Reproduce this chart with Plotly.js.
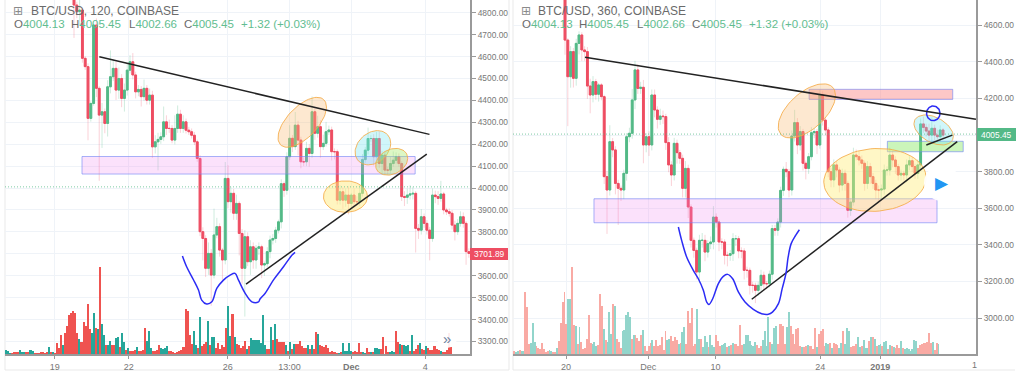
<!DOCTYPE html>
<html><head><meta charset="utf-8">
<script src="https://cdn.plot.ly/plotly-3.0.1.min.js"></script>
<style>html,body{margin:0;padding:0;background:#fff}#c{width:1024px;height:383px}</style></head>
<body><div id="c"></div>
<script>
// ---------- LEFT PANEL: BTC/USD 120 ----------
const leftClose=[4835,4805,4812,4592,4554,4318,4386,4744,4455,4333,
4348,4295,4462,4508,4546,4447,4500,4409,4447,4538,
4576,4516,4439,4450,4417,4455,4401,4424,4188,4211,
4222,4234,4302,4272,4272,4219,4272,4337,4272,4302,
4264,4257,4241,4211,4135,3801,3770,3634,3702,3603,
3786,3824,3717,3672,4044,3938,3976,3885,3930,3793,
3634,3778,3664,3732,3672,3725,3732,3649,3655,3710,
3763,3770,3808,3846,4020,3990,4143,4227,4189,4287,
4219,4120,4120,4181,4158,4348,4250,4280,4189,4204,
4257,4265,4166,4166,3945,3983,3945,3968,3930,3968,
3938,3938,3976,4130,4173,4226,4226,4143,4226,4112,
4150,4082,4082,4112,4127,4143,4112,3961,3958,3968,
3973,3976,3816,3808,3869,3839,3808,3770,3968,3961,
3953,3973,3900,3892,3885,3831,3801,3839,3869,3839,
3710,3702];
const leftWickUp=[20,15,60,10,10,15,10,5,30,10,
40,15,30,120,40,30,50,20,30,30,
30,40,15,20,15,40,15,30,20,30,
30,20,70,30,40,15,60,40,20,30,
15,15,15,15,10,15,20,15,50,20,
120,40,15,10,75,60,30,20,40,10,
20,30,20,30,20,15,20,10,10,20,
20,20,15,10,20,10,20,60,15,60,
20,15,20,30,20,70,15,50,30,40,
45,20,15,15,10,30,20,30,40,10,
30,25,40,25,15,50,15,20,30,30,
20,15,15,30,40,20,15,10,25,30,
40,30,10,20,35,15,15,15,30,20,
25,60,10,10,15,15,20,20,25,20,
10,15];
const leftWickDown=[150,30,60,20,15,100,15,10,40,300,
150,45,60,30,20,45,40,40,60,25,
15,20,30,20,45,20,20,20,50,30,
130,20,20,30,20,15,20,20,20,20,
15,15,15,15,15,20,100,40,30,140,
15,15,30,90,20,30,50,30,30,100,
70,220,20,60,40,40,30,60,50,15,
30,20,20,15,30,30,20,15,25,15,
70,30,20,20,60,20,30,20,50,15,
15,15,40,35,20,20,40,30,50,20,
30,20,20,15,15,20,15,40,15,20,
50,20,20,15,15,15,15,20,40,30,
20,25,110,40,20,20,20,100,15,30,
30,15,20,15,15,20,40,15,15,20,
60,20];
// signed volume: negative = down bar
const leftVolume=[4,3,1,-1,-2,-2,-2,4,2,2,-2,-2,4,3,-1,-1,-1,-2,-2,-1,-2,7,-2,2,-1,
-11,-6,-19,9,-21,-28,-39,-41,-43,-41,-21,15,-12,-32,-28,-50,-25,21,41,-26,25,-87,30,19,-9,
9,13,-9,-9,16,17,-7,21,12,-4,6,-3,-3,-4,7,-3,-3,-4,-26,13,
23,6,-3,-3,-4,-9,6,5,6,8,-3,-3,-2,-1,-2,-3,-4,-7,-45,-43,
-19,-10,23,9,-6,37,-8,-10,-12,33,-9,17,17,-6,-11,-5,-9,-7,-26,48,
18,-40,17,-10,-9,-6,-8,-13,5,-8,16,14,14,14,14,11,39,9,-5,-5,
27,-14,30,-15,-12,-12,-12,9,-3,12,-5,10,-10,-10,-13,-8,-6,-6,9,-5,
9,-5,-22,20,-9,-8,-7,-9,-6,-2,-3,-2,-1,1,-2,11,3,3,11,3,
-2,-3,-2,-11,-2,2,1,-6,-2,2,-2,6,6,5,-5,-17,-8,-2,2,3,
2,-23,-12,10,-9,9,8,9,-3,19,-3,-5,-9,11,-5,-4,8,-6,-4,-4,
-8,-5,-4,3,-2,-2,-4,-21,-7];
const leftTickDays=[0,3,7,9.5,12,15];
const leftTickText=['19','22','26','13:00','<b>Dec</b>','4'];
const leftPriceTicks=[3300,3400,3500,3600,3700,3800,3900,4000,4100,4200,4300,4400,4500,4600,4700,4800];
const leftHiddenTick=3700;
const leftLastPrice=4005.45, leftEndPrice=3701.89;

// ---------- RIGHT PANEL: BTC/USD 360 ----------
const rightClose=[4519,4319,4456,4310,4501,4547,4465,4456,4268,4219,
4292,4223,4274,4210,3773,3700,3964,3919,3736,3709,
3700,3791,3991,4010,4192,4356,4255,4261,3946,3991,
3946,4219,4137,4086,4104,4101,3959,3837,3782,3955,
3904,3873,3709,3818,3607,3425,3370,3252,3425,3425,
3361,3407,3416,3552,3525,3416,3416,3343,3343,3352,
3434,3434,3367,3367,3261,3261,3179,3179,3152,3179,
3234,3188,3188,3240,3489,3480,3525,3698,3813,3800,
3700,3995,4068,3946,4019,3846,3818,3882,4013,4019,
3946,4219,4082,4028,3800,3755,3837,3809,3727,3791,
3736,3589,3634,3891,3882,3864,3846,3736,3828,3773,
3736,3700,3700,3705,3809,3809,3891,3864,3828,3782,
3791,3782,3837,3860,3828,3791,3837,4061,4042,4022,
4000,4037,4000,3991,4028,4000];
const rightWickUp=[10,10,30,20,25,20,15,20,25,40,
30,15,10,10,10,30,90,20,20,20,
15,20,20,30,60,50,30,30,40,20,
30,30,30,20,40,30,15,30,20,30,
20,15,20,40,20,15,15,15,30,40,
30,20,30,60,20,15,20,15,20,20,
30,20,15,20,15,20,15,20,15,20,
30,20,15,20,20,20,20,20,15,40,
15,30,70,25,30,15,15,20,30,20,
15,30,20,15,15,20,30,20,15,25,
20,15,20,40,30,30,25,15,30,20,
20,20,25,25,30,20,40,25,20,15,
20,15,30,25,20,15,30,30,40,20,
40,60,20,30,25,10];
const rightWickDown=[80,270,60,50,40,60,60,50,70,100,
40,30,40,20,40,240,30,40,60,200,
60,50,40,30,30,50,30,30,100,40,
60,30,40,50,30,40,40,40,60,30,
60,30,50,50,60,40,40,40,60,40,
50,30,30,40,30,50,40,50,60,30,
40,40,40,40,50,40,50,40,70,30,
30,40,30,20,30,30,30,30,30,30,
40,30,30,50,30,40,60,30,20,30,
50,20,30,30,30,40,40,40,40,30,
40,40,30,20,20,30,30,40,30,40,
30,50,60,50,30,30,30,40,40,30,
30,30,40,30,30,30,30,30,30,30,
40,40,30,30,30,15];
const rightVolume=[-3,2,3,-4,3,3,-62,-47,-10,11,31,12,-8,-6,-5,-11,-5,-2,-3,4,3,-2,-2,6,-13,-31,-52,-62,-30,55,
55,-87,-29,28,-10,27,-12,-5,-6,-15,-39,-11,10,12,8,-9,-60,-48,25,-14,12,42,20,-50,48,-15,-12,-6,23,24,
39,42,37,-15,19,-19,-16,-13,-19,24,-8,-3,-8,-11,14,-8,-14,-8,-9,-17,-4,-23,14,15,-18,-13,-17,-14,10,-11,
22,27,-10,-43,-31,-46,-8,-10,45,15,-15,7,18,12,-7,19,9,7,-19,-13,-8,9,10,11,-7,8,-9,11,-10,-10,
-8,-29,-9,10,19,19,13,9,8,12,-9,-6,-8,14,23,8,37,-12,10,26,28,-10,-30,-30,-28,-10,27,42,-28,-20,
-10,-25,-26,-8,7,-7,-8,9,-8,-8,-5,-26,7,-20,-23,-25,-8,11,10,-11,6,-11,-10,-9,6,11,-23,10,26,23,
-7,-8,-8,-10,17,7,-8,14,6,6,-13,17,-17,15,-8,9,10,-8,12,13,-5,9,-8,7,-6,-9,-6,13,-6,5,
6,5,3,5,14,13,-6,-9,-10,-11,-11,-12,-21,-11,12,-4,-11,10];
const rightTickDays=[0,11,20,34,42];
const rightTickText=['20','Dec','10','24','<b>2019</b>'];
const rightPriceTicks=[3000,3200,3400,3600,3800,4000,4200,4400,4600];
const rightHiddenTick=4000;
const rightLastPrice=4005.45;

// Drawn annotations (days from panel reference date, price)
const lDownX=[1.806,15.17],lDownY=[4599,4245];
const lUpX=[7.745,15.06],lUpY=[3562,4155];
const lBlueX=[5.17,5.34,5.61,5.82,5.95,6.15,6.36,6.56,6.83,7.10,7.30,7.44,7.71,7.98,8.25,8.31,8.52,8.85,9.26,9.60,9.73];
const lBlueY=[3690,3641,3583,3535,3489,3471,3481,3542,3580,3603,3611,3580,3520,3481,3481,3494,3520,3580,3641,3694,3707];
const rDownX=[2.54,54.8],rDownY=[4425,4086];
const rUpX=[24.83,52.3],rUpY=[3103,3964];
const rShortX=[48.17,51.65],rShortY=[3946,4000];
const rBlueX=[15.02,15.46,16.13,17.02,17.69,18.36,18.81,19.12,19.61,20.37,21.03,21.6,22.28,23.04,23.93,25.04,26.16,27.05,27.6,28.4,28.9,29.4,29.7,30.1,30.7,31.2];
const rBlueY=[3498,3425,3334,3261,3215,3152,3088,3075,3106,3188,3228,3239,3215,3143,3088,3048,3024,3021,3033,3079,3161,3243,3334,3407,3452,3483];

const L={ref:Date.UTC(2018,10,19),xs:'x',ys:'y',pxDay:24.7,px0:54.7};
const R={ref:Date.UTC(2018,10,20),xs:'x2',ys:'y3',pxDay:7.48,px0:566};
const date=(p,d)=>new Date(p.ref+d*864e5).toISOString().slice(0,19);
const dayOfPx=(p,px)=>(px-p.px0)/p.pxDay;

const GREEN='#53b987',RED='#ee4d62';
const traces=[];
function candles(p,close,up,down,firstOpen,startPx){
  const x=close.map((_,i)=>date(p,dayOfPx(p,startPx+2.8*i)));
  const open=close.map((c,i)=>i?close[i-1]:firstOpen);
  const top=close.map((c,i)=>Math.max(c,open[i]));
  const bot=close.map((c,i)=>Math.min(c,open[i]));
  const base={type:'candlestick',x,open,close,xaxis:p.xs,yaxis:p.ys,hoverinfo:'skip',showlegend:false,whiskerwidth:0};
  traces.push(Object.assign({},base,{high:top.map((v,i)=>v+up[i]),low:bot.map((v,i)=>v-down[i]),
    increasing:{line:{color:'rgba(83,185,135,.28)',width:1},fillcolor:'rgba(83,185,135,.28)'},
    decreasing:{line:{color:'rgba(238,77,98,.25)',width:1},fillcolor:'rgba(238,77,98,.25)'}}));
  traces.push(Object.assign({},base,{high:top,low:bot,
    increasing:{line:{color:GREEN,width:1},fillcolor:GREEN},
    decreasing:{line:{color:RED,width:1},fillcolor:RED}}));
}
function volumes(p,vol,startPx,stepPx,yaxis,upC,dnC){
  traces.push({type:'bar',x:vol.map((_,i)=>date(p,dayOfPx(p,startPx+stepPx*i))),y:vol.map(Math.abs),
    marker:{color:vol.map(v=>v<0?dnC:upC),line:{width:0}},xaxis:p.xs,yaxis,hoverinfo:'skip',showlegend:false});
}
function line(p,xd,yd,color,width,extra){
  traces.push(Object.assign({type:'scatter',mode:'lines',x:xd.map(d=>date(p,d)),y:yd,xaxis:p.xs,yaxis:p.ys,
    line:{color,width},hoverinfo:'skip',showlegend:false},extra||{}));
}
function rect(p,x0,x1,y0,y1,fill,border){
  line(p,[x0,x1,x1,x0,x0],[y0,y0,y1,y1,y0],border,1,{fill:'toself',fillcolor:fill});
}
function ellipse(p,cx,cy,rx,ry,phiDeg,fill,border,w){
  const xs=[],ys=[],phi=phiDeg*Math.PI/180;
  for(let k=0;k<=72;k++){const t=k/72*2*Math.PI;xs.push(cx+rx*Math.cos(t));ys.push(cy+ry*Math.sin(t+phi));}
  line(p,xs,ys,border,w||1,fill?{fill:'toself',fillcolor:fill}:{});
}

volumes(L,leftVolume,6,2.04,'y2','#26a69a','#ef5350');
volumes(R,rightVolume,514,1.87,'y4','#92d5cb','#f9aaa4');
candles(L,leftClose,leftWickUp,leftWickDown,4860,74);
candles(R,rightClose,rightWickUp,rightWickDown,4760,565);

const ORANGE='rgba(245,170,70,.85)',RB='rgba(110,130,245,.6)';
// left drawings
rect(L,1.105,14.59,4064,4144,'rgba(240,130,240,.24)',RB);
ellipse(L,10.02,4300,.98,114,38,'rgba(250,190,120,.35)',ORANGE);
ellipse(L,12.88,4184,.72,78,15,'rgba(120,230,240,.35)',ORANGE);
ellipse(L,13.64,4120,.65,61,15,'rgba(170,235,110,.4)',ORANGE);
ellipse(L,11.77,3961,.89,72,0,'rgba(255,235,130,.5)',ORANGE);
line(L,lDownX,lDownY,'#222',1.5);
line(L,lUpX,lUpY,'#222',1.5);
line(L,lBlueX,lBlueY,'#2c2cf5',1.5,{line:{color:'#2c2cf5',width:1.5,shape:'spline'}});
line(L,[-2.012,16.81],[leftLastPrice,leftLastPrice],'rgba(83,185,135,.75)',1,{line:{color:'rgba(83,185,135,.75)',width:1,dash:'1px,2px'}});
// right drawings
rect(R,3.74,49.6,3521,3652,'rgba(240,130,240,.24)',RB);
rect(R,32.5,51.7,4195,4250,'rgba(250,130,130,.45)',RB);
rect(R,42.96,53.1,3909,3966,'rgba(130,230,90,.42)',RB);
ellipse(R,32.2,4132,3.83,148,35,'rgba(250,190,120,.35)',ORANGE);
ellipse(R,41.3,3755,6.84,172,4,'rgba(255,235,120,.42)',ORANGE);
ellipse(R,49.15,4028,2.63,82,-25,'rgba(120,230,240,.35)',ORANGE);
ellipse(R,49.1,4119,.9,40,0,null,'#2c2cf5',1.5);
line(R,rDownX,rDownY,'#222',1.5);
line(R,rUpX,rUpY,'#222',1.5);
line(R,rShortX,rShortY,'#222',1.5);
line(R,rBlueX,rBlueY,'#2c2cf5',1.5,{line:{color:'#2c2cf5',width:1.5,shape:'spline'}});
line(R,[-7.086,54.81],[rightLastPrice,rightLastPrice],'rgba(83,185,135,.75)',1,{line:{color:'rgba(83,185,135,.75)',width:1,dash:'1px,2px'}});

const W=1024,H=383,FONT='"Liberation Sans",Arial,sans-serif',GRID='#eff3f8',AX='#9a9a9a',TXT='#777';
const pxX=x=>x/W,pxY=y=>1-y/H;
const xAxis=(p,d0,d1,dom,vals,text,anchor)=>({domain:dom.map(pxX),range:[date(p,d0),date(p,d1)],type:'date',anchor,
  tickmode:'array',tickvals:vals.map(d=>date(p,d)),ticktext:text,ticks:'outside',ticklen:3,tickcolor:AX,
  tickfont:{family:FONT,size:9,color:TXT},showgrid:true,gridcolor:GRID,gridwidth:1,showline:true,linecolor:AX,linewidth:2,zeroline:false,
  rangeslider:{visible:false},fixedrange:true});
const yAxis=(range,vals,hidden,anchor)=>({domain:[pxY(354),1],range,side:'right',anchor,tickmode:'array',tickvals:vals,
  ticktext:vals.map(v=>v===hidden?' ':v.toFixed(2)),ticks:'outside',ticklen:4,tickcolor:AX,tickfont:{family:FONT,size:8.4,color:TXT},
  showgrid:true,gridcolor:GRID,gridwidth:1,showline:true,linecolor:AX,linewidth:2,zeroline:false,fixedrange:true});
const volAxis=(over,anchor)=>({domain:[pxY(354),1],range:[0,354],overlaying:over,anchor,visible:false,fixedrange:true});

const annotations=[];
function txt(x,y,text,size,color,anchor,extra){
  annotations.push(Object.assign({xref:'paper',yref:'paper',x:pxX(x),y:pxY(y),text,showarrow:false,xanchor:anchor||'left',yanchor:'middle',
    font:{family:FONT,size,color},borderpad:0,borderwidth:0},extra||{}));
}
function header(dx,tf){
  txt(13+dx,11,'⊞',12,'#8a8a8a','left',{font:{family:'DejaVu Sans',size:12,color:'#8a8a8a'}});
  txt(30.5+dx,11,'BTC/USD, '+tf+', COINBASE',12,'#6a6a6a');
  const g=s=>'<span style="color:#62bd90">'+s+'</span>';
  [[14,'O'+g('4004.13')],[71,'H'+g('4005.45')],[129,'L'+g('4002.66')],[184,'C'+g('4005.45')],[241,g('+1.32 (+0.03%)')]]
    .forEach(t=>txt(t[0]+dx,24,t[1],11.5,'#6a6a6a'));
}
header(0,'120');header(507.5,'360');
txt(489,254,leftEndPrice.toFixed(2),8.4,'#fff','center');
txt(996,134.5,rightLastPrice.toFixed(2),8.4,'#fff','center');
txt(974.5,365,'1',9,TXT,'center');
txt(447,338,'»',15,'#6d7f9e','center');
txt(942,183,'▶',17,'#2196f3','center',{font:{family:'DejaVu Sans',size:17,color:'#2196f3'}});

const box=(x0,y0,x1,y1,opt)=>Object.assign({type:'rect',xref:'paper',yref:'paper',x0:pxX(x0),x1:pxX(x1),y0:pxY(y1),y1:pxY(y0),layer:'above',line:{width:0}},opt);
const shapes=[
  box(470,248,508,260,{fillcolor:RED}),
  box(977,128,1016,141,{fillcolor:GREEN}),
  {type:'circle',xref:'paper',yref:'paper',x0:pxX(437),x1:pxX(457),y0:pxY(348),y1:pxY(328),fillcolor:'rgba(255,255,255,.9)',line:{width:0},layer:'above'},
  {type:'circle',xref:'paper',yref:'paper',x0:pxX(924),x1:pxX(960),y0:pxY(201),y1:pxY(165),fillcolor:'rgba(255,255,255,.95)',line:{width:0},layer:'above'},
  {type:'line',xref:'paper',yref:'paper',x0:pxX(5),x1:pxX(5),y0:pxY(0),y1:pxY(370),line:{color:'#e9e9e9',width:1},layer:'below'},
  {type:'line',xref:'paper',yref:'paper',x0:pxX(5),x1:pxX(509),y0:pxY(370),y1:pxY(370),line:{color:'#e9e9e9',width:1},layer:'below'},
  {type:'line',xref:'paper',yref:'paper',x0:pxX(509),x1:pxX(509),y0:pxY(0),y1:pxY(370),line:{color:'#e9e9e9',width:1},layer:'below'},
  {type:'line',xref:'paper',yref:'paper',x0:pxX(513),x1:pxX(513),y0:pxY(0),y1:pxY(370),line:{color:'#e9e9e9',width:1},layer:'below'},
  {type:'line',xref:'paper',yref:'paper',x0:pxX(513),x1:pxX(1015),y0:pxY(370),y1:pxY(370),line:{color:'#e9e9e9',width:1},layer:'below'}
];

Plotly.newPlot('c',traces,{
  width:W,height:H,margin:{l:0,r:0,t:0,b:0},paper_bgcolor:'#fff',plot_bgcolor:'#fff',showlegend:false,
  boxgap:.05,boxmode:'overlay',bargap:0,barmode:'overlay',
  xaxis:xAxis(L,-2.012,16.81,[5,470],leftTickDays,leftTickText,'y'),
  yaxis:yAxis([3243,4858],leftPriceTicks,leftHiddenTick,'x'),
  yaxis2:volAxis('y','x'),
  xaxis2:xAxis(R,-7.086,54.81,[513,976],rightTickDays,rightTickText,'y3'),
  yaxis3:yAxis([2804,4738],rightPriceTicks,rightHiddenTick,'x2'),
  yaxis4:volAxis('y3','x2'),
  shapes,annotations
},{staticPlot:true,displayModeBar:false});
</script></body></html>
